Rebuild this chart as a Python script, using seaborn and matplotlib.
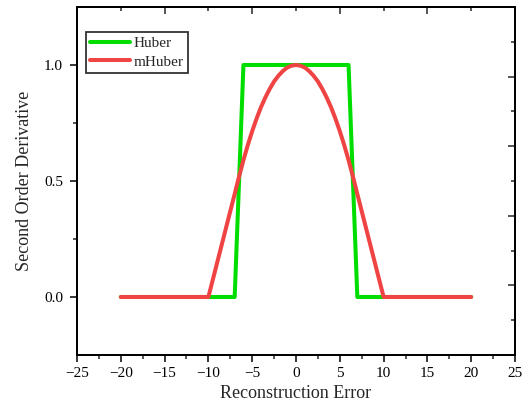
import numpy as np
import pandas as pd
import matplotlib
matplotlib.use("Agg")
import matplotlib.pyplot as plt
from matplotlib.ticker import MultipleLocator, FixedLocator, NullFormatter
import seaborn as sns

# Huber: second derivative
huber_x = [-20, -7, -6, 6, 7, 20]
huber_y = [0.0, 0.0, 1.0, 1.0, 0.0, 0.0]

# mHuber: second derivative
mhuber_x = [-20, -10, -9.5, -9, -8.5, -8, -7.5, -7, -6.5, -6, -5.5, -5, -4.5, -4,
            -3.5, -3, -2.5, -2, -1.5, -1, -0.5, 0, 0.5, 1, 1.5, 2, 2.5, 3, 3.5,
            4, 4.5, 5, 5.5, 6, 6.5, 7, 7.5, 8, 8.5, 9, 9.5, 10, 20]
mhuber_y = [0.0, 0.0, 0.074, 0.148, 0.222, 0.296, 0.370, 0.444, 0.519, 0.590,
            0.655, 0.715, 0.769, 0.818, 0.860, 0.897, 0.929, 0.954, 0.974,
            0.989, 0.997, 1.000, 0.997, 0.989, 0.974, 0.954, 0.929, 0.897,
            0.860, 0.818, 0.769, 0.715, 0.655, 0.590, 0.519, 0.444, 0.370,
            0.296, 0.222, 0.148, 0.074, 0.0, 0.0]

series_names = ["Huber", "mHuber"]
series_colors = ["#00dd00", "#f04444"]

df = pd.concat([
    pd.DataFrame({"x": huber_x, "y": huber_y, "loss": "Huber"}),
    pd.DataFrame({"x": mhuber_x, "y": mhuber_y, "loss": "mHuber"}),
], ignore_index=True)

sns.set_theme(style="ticks")
plt.rcParams["font.family"] = ["Liberation Serif", "DejaVu Serif"]
plt.rcParams["axes.unicode_minus"] = True

fig = plt.figure(figsize=(5.22, 4.11), dpi=100)
ax = fig.add_axes([0.1475, 0.1363, 0.8391, 0.8467])

sns.lineplot(data=df, x="x", y="y", hue="loss", hue_order=series_names,
             palette=series_colors, linewidth=2.9, sort=False,
             estimator=None, ax=ax)

ax.set_xlim(-25, 25)
ax.set_ylim(-0.25, 1.25)
ax.xaxis.set_major_locator(MultipleLocator(5))
ax.xaxis.set_minor_locator(MultipleLocator(2.5))
ax.yaxis.set_major_locator(FixedLocator([0.0, 0.5, 1.0]))
ax.yaxis.set_minor_locator(FixedLocator([0.25, 0.75]))
ax.yaxis.set_major_formatter(matplotlib.ticker.FormatStrFormatter("%.1f"))
ax.tick_params(which="major", direction="out", length=5, width=1.1,
               labelsize=11, colors="black")
ax.tick_params(which="minor", direction="out", length=3, width=1.1)
ax.tick_params(axis="x", pad=4)
ax.tick_params(axis="y", pad=5)

for sp in ax.spines.values():
    sp.set_linewidth(1.3)
    sp.set_color("black")
    sp.set_visible(True)

# opposite axes ticks (inward, no labels)
top = ax.twiny()
top.set_xlim(ax.get_xlim())
top.xaxis.set_major_locator(FixedLocator([-15, -5, 5, 15]))
top.xaxis.set_minor_locator(FixedLocator([-20, -10, 0, 10, 20]))
top.xaxis.set_major_formatter(NullFormatter())
top.tick_params(which="major", direction="in", length=5, width=1.1)
top.tick_params(which="minor", direction="in", length=3, width=1.1)

right = ax.twinx()
right.set_ylim(ax.get_ylim())
right.yaxis.set_major_locator(FixedLocator([0.05, 0.35, 0.65, 0.95]))
right.yaxis.set_minor_locator(FixedLocator([-0.1, 0.2, 0.5, 0.8, 1.1]))
right.yaxis.set_major_formatter(NullFormatter())
right.tick_params(which="major", direction="in", length=5, width=1.1)
right.tick_params(which="minor", direction="in", length=3, width=1.1)
for a in (top, right):
    for sp in a.spines.values():
        sp.set_linewidth(1.3)
        sp.set_color("black")

ax.set_xlabel("Reconstruction Error", fontsize=13, labelpad=3)
ax.set_ylabel("Second Order Derivative", fontsize=13, labelpad=8)

handles, labels = ax.get_legend_handles_labels()
leg = ax.legend(handles, labels, loc="upper left",
                bbox_to_anchor=(0.02, 0.928), fontsize=11,
                frameon=True, fancybox=False, handlelength=2.6,
                handletextpad=0.25, borderpad=0.3, labelspacing=0.3,
                borderaxespad=0)
leg.get_frame().set_edgecolor("black")
leg.get_frame().set_linewidth(1.3)
for line in leg.get_lines():
    line.set_linewidth(2.9)

fig.savefig("out.png", dpi=100)
